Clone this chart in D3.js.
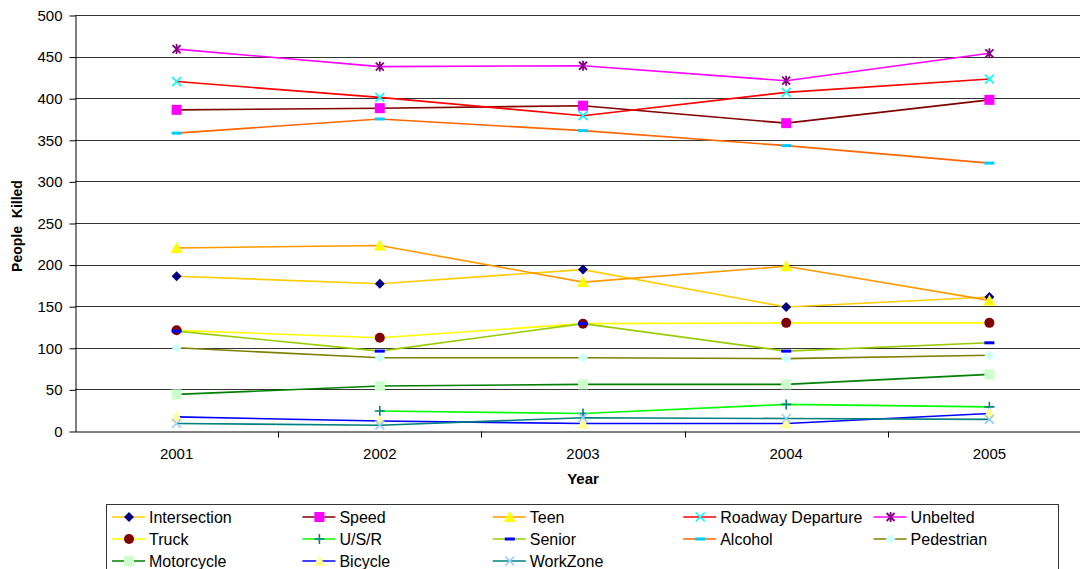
<!DOCTYPE html>
<html>
<head>
<meta charset="utf-8">
<script src="https://cdn.jsdelivr.net/npm/d3@7"></script>
<style>
  html, body { margin: 0; padding: 0; background: #fff; overflow: hidden; }
  svg { display: block; font-family: "Liberation Sans", Arial, sans-serif; }
</style>
</head>
<body>
<svg id="chart" width="1080" height="569"></svg>
<script>
// Traffic fatalities by emphasis area, 2001-2005
const years = ["2001", "2002", "2003", "2004", "2005"];
const yTicks = [0, 50, 100, 150, 200, 250, 300, 350, 400, 450, 500];

const intersection = [186, 177, 194, 149, 161];
const speed        = [386, 388, 391, 370, 398];
const teen         = [220, 223, 179, 198, 157];
const roadway      = [420, 401, 379, 407, 423];
const unbelted     = [459, 438, 439, 421, 454];
const truck        = [121, 112, 129, 130, 130];
const usr          = [null, 24, 21, 32, 29];
const senior       = [120, 96, 129, 96, 106];
const alcohol      = [358, 375, 361, 343, 322];
const pedestrian   = [100, 88, 88, 87, 91];
const motorcycle   = [44, 54, 56, 56, 68];
const bicycle      = [17, 12, 9, 9, 21];
const workzone     = [9, 7, 16, 15, 14];

const seriesNames = ["Intersection", "Speed", "Teen", "Roadway Departure", "Unbelted",
                     "Truck", "U/S/R", "Senior", "Alcohol", "Pedestrian",
                     "Motorcycle", "Bicycle", "WorkZone"];
const seriesValues = [intersection, speed, teen, roadway, unbelted,
                      truck, usr, senior, alcohol, pedestrian,
                      motorcycle, bicycle, workzone];

// line colour, marker shape, marker colour for each series
const styles = [
  { line: "#FFCC00", shape: "diamond",  fill: "#000080" },
  { line: "#800000", shape: "square",   fill: "#FF00FF" },
  { line: "#FF9900", shape: "triangle", fill: "#FFFF00" },
  { line: "#FF0000", shape: "x",        fill: "#00FFFF" },
  { line: "#FF00FF", shape: "star",     fill: "#800080" },
  { line: "#FFFF00", shape: "circle",   fill: "#800000" },
  { line: "#00FF00", shape: "plus",     fill: "#008080" },
  { line: "#99CC00", shape: "dash",     fill: "#0000FF" },
  { line: "#FF6600", shape: "dash",     fill: "#00CCFF" },
  { line: "#808000", shape: "diamond",  fill: "#CCFFFF" },
  { line: "#008000", shape: "square",   fill: "#CCFFCC" },
  { line: "#0000FF", shape: "triangle", fill: "#FFFF99" },
  { line: "#008080", shape: "x",        fill: "#99CCFF" }
];

const svg = d3.select("#chart");
const plot = { left: 75, top: 15, right: 1091, bottom: 431 };

const x = d3.scaleBand().domain(years).range([plot.left, plot.right]).padding(0);
const cx = d => x(d) + x.bandwidth() / 2;
const y = d3.scaleLinear().domain([0, 500]).range([plot.bottom, plot.top]);

// horizontal gridlines
svg.append("g")
  .selectAll("line")
  .data(yTicks.filter(t => t > 0))
  .join("line")
  .attr("x1", plot.left).attr("x2", plot.right)
  .attr("y1", d => Math.round(y(d)) + 0.5).attr("y2", d => Math.round(y(d)) + 0.5)
  .attr("stroke", "#333").attr("stroke-width", 1);

// y axis
const yAxis = svg.append("g")
  .attr("transform", `translate(${plot.left + 0.5},0.5)`)
  .call(d3.axisLeft(y).tickValues(yTicks).tickSize(6).tickPadding(7).tickSizeOuter(0));
yAxis.select(".domain").attr("stroke", "#000");
yAxis.selectAll(".tick line").attr("stroke", "#000");
yAxis.selectAll("text").attr("font-size", 15).attr("fill", "#000")
  .attr("font-family", "Liberation Sans, Arial, sans-serif");

// x axis: labels centred in each category, ticks at category boundaries
const xAxis = svg.append("g")
  .attr("transform", `translate(0,${Math.round(plot.bottom) + 0.5})`)
  .call(d3.axisBottom(x).tickSize(0).tickPadding(16.5).tickSizeOuter(0));
xAxis.select(".domain").attr("stroke", "#000");
xAxis.selectAll("text").attr("font-size", 15).attr("fill", "#000")
  .attr("font-family", "Liberation Sans, Arial, sans-serif");
xAxis.selectAll(".bound")
  .data(years.slice(1))
  .join("line")
  .attr("class", "bound")
  .attr("x1", d => Math.round(x(d)) + 0.5).attr("x2", d => Math.round(x(d)) + 0.5)
  .attr("y1", 0).attr("y2", 6)
  .attr("stroke", "#000");

// axis titles
svg.append("text")
  .attr("x", (plot.left + plot.right) / 2).attr("y", 484)
  .attr("text-anchor", "middle")
  .attr("font-size", 15).attr("font-weight", "bold")
  .text("Year");
svg.append("text")
  .attr("transform", `translate(21.5,${(plot.top + plot.bottom) / 2 + 3}) rotate(-90)`)
  .attr("text-anchor", "middle")
  .attr("font-size", 14).attr("font-weight", "bold")
  .attr("xml:space", "preserve")
  .style("white-space", "pre")
  .text("People  Killed");

// marker drawing
function drawMarker(g, shape, fill) {
  switch (shape) {
    case "diamond":
      g.append("path").attr("d", "M0,-5L5,0L0,5L-5,0Z").attr("fill", fill);
      break;
    case "square":
      g.append("rect").attr("x", -5).attr("y", -5).attr("width", 10).attr("height", 10).attr("fill", fill);
      break;
    case "triangle":
      g.append("path").attr("d", "M0,-6L6,5L-6,5Z").attr("fill", fill);
      break;
    case "circle":
      g.append("circle").attr("r", 5).attr("fill", fill);
      break;
    case "x":
      g.append("path").attr("d", "M-4.5,-4.5L4.5,4.5M-4.5,4.5L4.5,-4.5")
        .attr("stroke", fill).attr("stroke-width", 1.6).attr("fill", "none");
      break;
    case "star":
      g.append("path").attr("d", "M-4,-4L4,4M-4,4L4,-4M0,-5L0,5")
        .attr("stroke", fill).attr("stroke-width", 1.8).attr("fill", "none");
      break;
    case "plus":
      g.append("path").attr("d", "M-5,0L5,0M0,-5L0,5")
        .attr("stroke", fill).attr("stroke-width", 1.6).attr("fill", "none");
      break;
    case "dash":
      g.append("rect").attr("x", -5).attr("y", -1.5).attr("width", 10).attr("height", 3).attr("fill", fill);
      break;
  }
}

// series lines and markers
const line = d3.line()
  .defined(d => d.v !== null)
  .x(d => cx(d.year))
  .y(d => y(d.v));

const seriesG = svg.append("g");
seriesNames.forEach((name, i) => {
  const pts = years.map((yr, j) => ({ year: yr, v: seriesValues[i][j] }));
  const st = styles[i];
  const g = seriesG.append("g").attr("class", "series");
  g.append("path")
    .datum(pts)
    .attr("d", line)
    .attr("fill", "none")
    .attr("stroke", st.line)
    .attr("stroke-width", 1.6);
  g.selectAll("g.mk")
    .data(pts.filter(p => p.v !== null))
    .join("g")
    .attr("class", "mk")
    .attr("transform", p => `translate(${cx(p.year)},${y(p.v)})`)
    .each(function () { drawMarker(d3.select(this), st.shape, st.fill); });
});

// legend
const legend = svg.append("g");
legend.append("rect")
  .attr("x", 106.5).attr("y", 504.5)
  .attr("width", 952).attr("height", 80)
  .attr("fill", "#fff").attr("stroke", "#333").attr("stroke-width", 1);

const colX = d3.scaleLinear().domain([0, 1]).range([112, 302.4]);
const rowY = d3.scaleLinear().domain([0, 1]).range([517, 539]);

seriesNames.forEach((name, i) => {
  const col = i % 5, row = Math.floor(i / 5);
  const lx = colX(col), ly = rowY(row);
  const st = styles[i];
  const item = legend.append("g").attr("transform", `translate(${lx},${ly})`);
  item.append("line").attr("x1", 0).attr("x2", 33).attr("y1", 0).attr("y2", 0)
    .attr("stroke", st.line).attr("stroke-width", 1.6);
  const m = item.append("g").attr("transform", "translate(17,0)");
  drawMarker(m, st.shape, st.fill);
  item.append("text").attr("x", 37).attr("y", 0).attr("dy", "0.35em")
    .attr("font-size", 16).attr("fill", "#000").text(name);
});
</script>
</body>
</html>
